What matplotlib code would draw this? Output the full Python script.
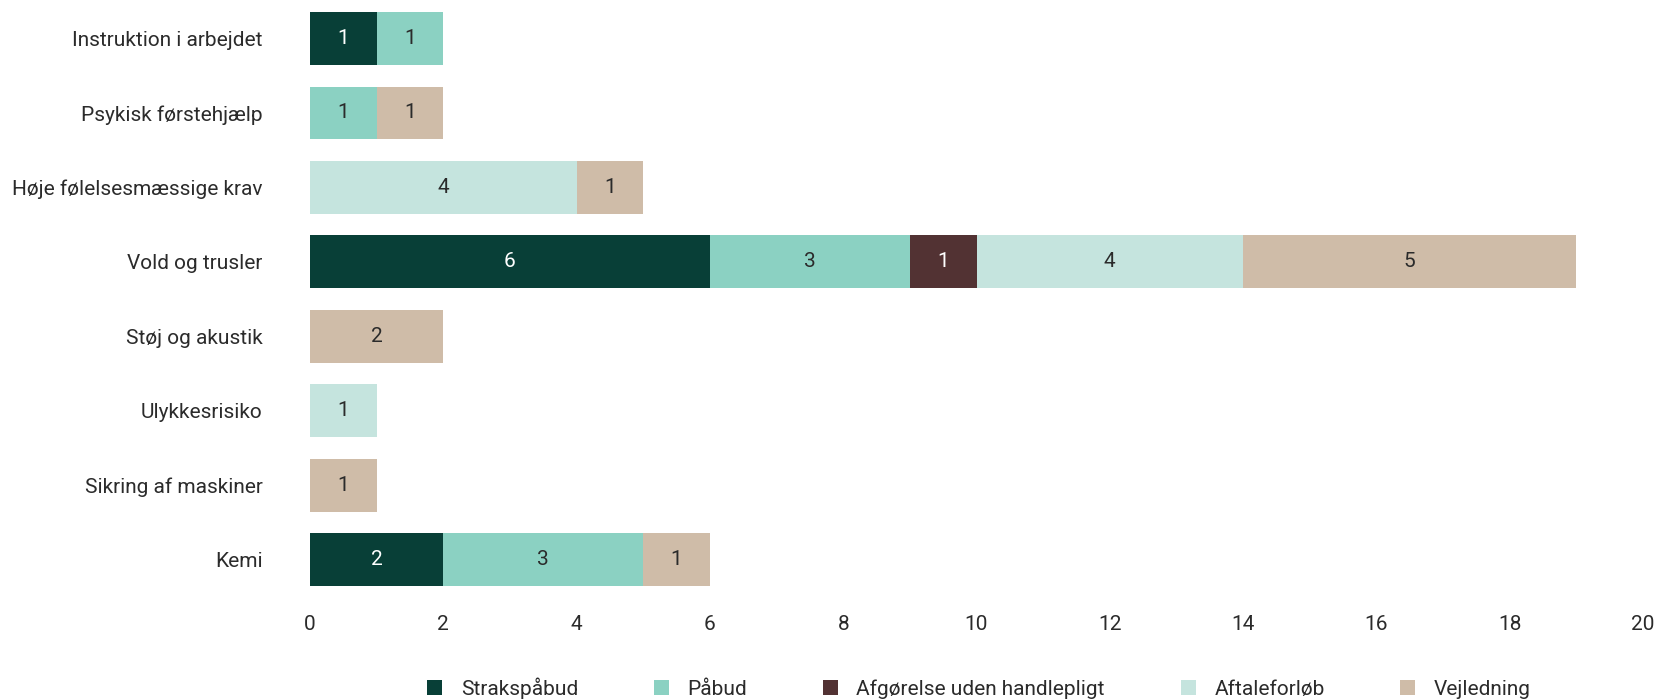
import matplotlib
matplotlib.use("Agg")
import matplotlib.pyplot as plt
from matplotlib.patches import Patch
import numpy as np

plt.rcParams['font.family'] = ['Roboto', 'DejaVu Sans']

categories = ["Instruktion i arbejdet", "Psykisk førstehjælp", "Høje følelsesmæssige krav",
              "Vold og trusler", "Støj og akustik", "Ulykkesrisiko", "Sikring af maskiner", "Kemi"]
series_names = ["Strakspåbud", "Påbud", "Afgørelse uden handlepligt", "Aftaleforløb", "Vejledning"]
strakspaabud = [1, 0, 0, 6, 0, 0, 0, 2]
paabud       = [1, 1, 0, 3, 0, 0, 0, 3]
afgoerelse   = [0, 0, 0, 1, 0, 0, 0, 0]
aftaleforloeb = [0, 0, 4, 4, 0, 1, 0, 0]
vejledning   = [0, 1, 1, 5, 2, 0, 1, 1]
values = [strakspaabud, paabud, afgoerelse, aftaleforloeb, vejledning]
colors = ["#083f37", "#8bd1c2", "#523233", "#c5e4de", "#cfbca8"]
label_colors = ["white", "#2b2b2b", "white", "#2b2b2b", "#2b2b2b"]
xticks = [0, 2, 4, 6, 8, 10, 12, 14, 16, 18, 20]

FS = 15

fig = plt.figure(figsize=(16.59, 6.99), dpi=100)
ax = fig.add_axes([310/1659, 1-597/699, (1643-310)/1659, (597-1.25)/699])

y = np.arange(len(categories))
left = np.zeros(len(categories))
for vals, col, lc, name in zip(values, colors, label_colors, series_names):
    vals = np.array(vals, dtype=float)
    bars = ax.barh(y, vals, left=left, height=0.71, color=col, label=name)
    labels = [str(int(v)) if v > 0 else "" for v in vals]
    ax.bar_label(bars, labels=labels, label_type='center', color=lc, fontsize=FS)
    left += vals

ax.set_ylim(-0.5, len(categories) - 0.5)
ax.invert_yaxis()
ax.set_xlim(0, 20)
ax.set_xticks(xticks)
ax.set_yticks(y)
ax.set_yticklabels(categories)
for s in ax.spines.values():
    s.set_visible(False)
ax.tick_params(axis='x', length=0, pad=13, labelsize=FS, labelcolor="#2b2b2b")
ax.tick_params(axis='y', length=0, pad=34, labelsize=FS, labelcolor="#2b2b2b")

handles = [Patch(facecolor=c, edgecolor='none') for c in colors]
fig.legend(handles, series_names, loc='center', bbox_to_anchor=(979/1659, 1-688/699),
           ncol=5, frameon=False, fontsize=FS, handlelength=0.72, handleheight=0.72,
           handletextpad=0.9, columnspacing=3.63, labelcolor="#2b2b2b", borderpad=0)

fig.savefig("out.png", dpi=100)
